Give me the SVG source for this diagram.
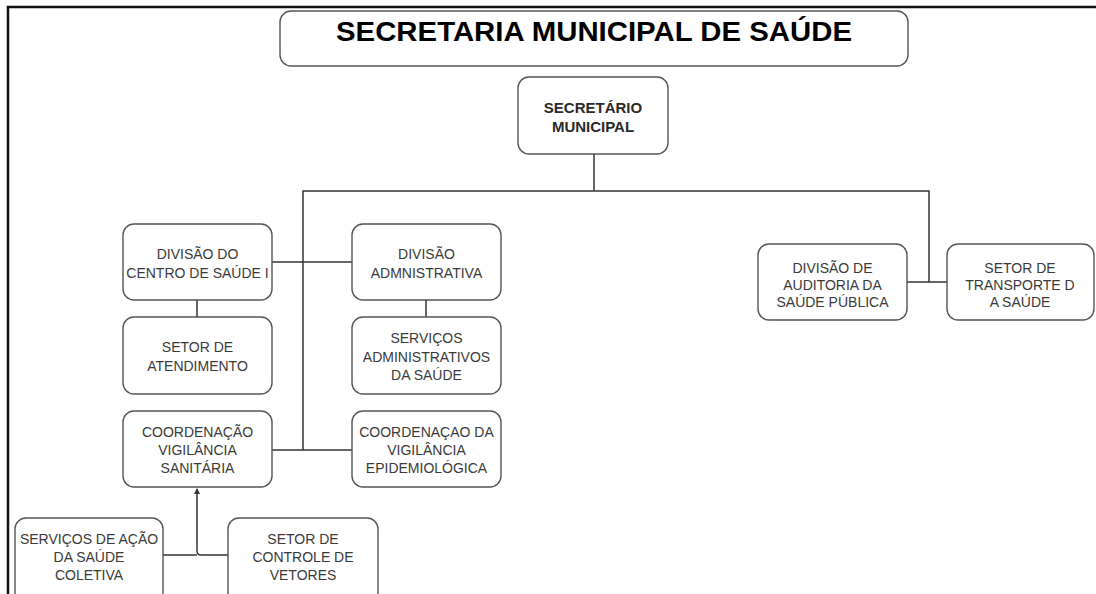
<svg xmlns="http://www.w3.org/2000/svg" width="1096" height="594" viewBox="0 0 1096 594">
  <style>
    .box { fill: #ffffff; stroke: #555555; stroke-width: 1.4; }
    .lbl { font-family: "Liberation Sans", Arial, sans-serif; font-size: 14px; fill: #3a3a3a; text-anchor: middle; }
    .lblb { font-family: "Liberation Sans", Arial, sans-serif; font-size: 15px; font-weight: bold; fill: #2a2a2a; text-anchor: middle; }
    .title { font-family: "Liberation Sans", Arial, sans-serif; font-size: 27px; font-weight: bold; fill: #000000; text-anchor: middle; }
    .conn { fill: none; stroke: #333333; stroke-width: 1.5; }
  </style>
  <defs>
    <marker id="arr" viewBox="0 0 6 6" refX="5" refY="3" markerWidth="6" markerHeight="6" orient="auto" markerUnits="userSpaceOnUse">
      <path d="M0,0 L6,3 L0,6 Z" fill="#333333"/>
    </marker>
  </defs>
  <rect x="0" y="0" width="1096" height="594" fill="#ffffff"/>
  <path d="M8,600 V7 H1100" fill="none" stroke="#111111" stroke-width="2.5"/>

  <g id="connectors">
    <path class="conn" d="M594,154 V191"/>
    <path class="conn" d="M303,450 V191 H929 V282"/>
    <path class="conn" d="M272,262 H352"/>
    <path class="conn" d="M272,450 H352"/>
    <path class="conn" d="M197,300 V317"/>
    <path class="conn" d="M426,300 V317"/>
    <path class="conn" d="M907,282 H947"/>
    <path class="conn" d="M163,555 H197"/>
    <path class="conn" d="M228,555 H201 Q197,555 197,551 V489" marker-end="url(#arr)"/>
  </g>

  <g id="title">
    <rect class="box" x="280" y="11" width="628" height="55" rx="11"/>
    <text class="title" x="594" y="41" textLength="516" lengthAdjust="spacingAndGlyphs">SECRETARIA MUNICIPAL DE SAÚDE</text>
  </g>

  <g id="secretario">
    <rect class="box" x="518" y="77" width="150" height="77" rx="11"/>
    <text class="lblb" x="593" y="113">SECRETÁRIO</text>
    <text class="lblb" x="593" y="132">MUNICIPAL</text>
  </g>

  <g id="div-centro">
    <rect class="box" x="123" y="224" width="149" height="76" rx="11"/>
    <text class="lbl" x="197.5" y="259">DIVISÃO DO</text>
    <text class="lbl" x="197.5" y="278">CENTRO DE SAÚDE I</text>
  </g>

  <g id="div-adm">
    <rect class="box" x="352" y="224" width="149" height="76" rx="11"/>
    <text class="lbl" x="426.5" y="259">DIVISÃO</text>
    <text class="lbl" x="426.5" y="278">ADMNISTRATIVA</text>
  </g>

  <g id="setor-atendimento">
    <rect class="box" x="123" y="317" width="149" height="77" rx="11"/>
    <text class="lbl" x="197.5" y="352">SETOR DE</text>
    <text class="lbl" x="197.5" y="371">ATENDIMENTO</text>
  </g>

  <g id="servicos-adm">
    <rect class="box" x="352" y="317" width="149" height="77" rx="11"/>
    <text class="lbl" x="426.5" y="343">SERVIÇOS</text>
    <text class="lbl" x="426.5" y="362">ADMINISTRATIVOS</text>
    <text class="lbl" x="426.5" y="380">DA SAÚDE</text>
  </g>

  <g id="coord-sanitaria">
    <rect class="box" x="123" y="411" width="149" height="76" rx="11"/>
    <text class="lbl" x="197.5" y="437">COORDENAÇÃO</text>
    <text class="lbl" x="197.5" y="455">VIGILÂNCIA</text>
    <text class="lbl" x="197.5" y="473">SANITÁRIA</text>
  </g>

  <g id="coord-epidemiologica">
    <rect class="box" x="352" y="411" width="149" height="76" rx="11"/>
    <text class="lbl" x="426.5" y="437">COORDENAÇAO DA</text>
    <text class="lbl" x="426.5" y="455">VIGILÂNCIA</text>
    <text class="lbl" x="426.5" y="473">EPIDEMIOLÓGICA</text>
  </g>

  <g id="div-auditoria">
    <rect class="box" x="758" y="244" width="149" height="76" rx="11"/>
    <text class="lbl" x="832.5" y="273">DIVISÃO DE</text>
    <text class="lbl" x="832.5" y="290">AUDITORIA DA</text>
    <text class="lbl" x="832.5" y="307">SAÚDE PÚBLICA</text>
  </g>

  <g id="setor-transporte">
    <rect class="box" x="947" y="244" width="147" height="76" rx="11"/>
    <text class="lbl" x="1020" y="273">SETOR DE</text>
    <text class="lbl" x="1020" y="290">TRANSPORTE D</text>
    <text class="lbl" x="1020" y="307">A SAÚDE</text>
  </g>

  <g id="servicos-acao">
    <rect class="box" x="15" y="518" width="148" height="90" rx="11"/>
    <text class="lbl" x="89" y="544">SERVIÇOS DE AÇÃO</text>
    <text class="lbl" x="89" y="562">DA SAÚDE</text>
    <text class="lbl" x="89" y="580">COLETIVA</text>
  </g>

  <g id="setor-vetores">
    <rect class="box" x="228" y="518" width="150" height="90" rx="11"/>
    <text class="lbl" x="303" y="544">SETOR DE</text>
    <text class="lbl" x="303" y="562">CONTROLE DE</text>
    <text class="lbl" x="303" y="580">VETORES</text>
  </g>
</svg>
